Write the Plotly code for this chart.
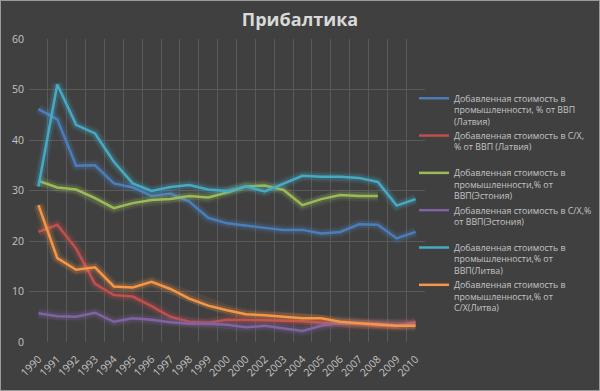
import plotly.graph_objects as go

tick_labels = ["1990", "1991", "1992", "1993", "1994", "1995", "1996", "1997", "1998", "1999",
               "2000", "2000", "2002", "2003", "2004", "2005", "2006", "2007", "2008", "2009", "2010"]

latvia_industry = [46.1, 44.1, 34.9, 35.0, 31.4, 30.6, 28.9, 29.4, 27.8, 24.6, 23.5,
                   23.0, 22.6, 22.2, 22.2, 21.5, 21.8, 23.3, 23.2, 20.5, 21.8]
latvia_agri = [21.8, 23.2, 18.5, 11.5, 9.3, 9.0, 7.1, 5.0, 4.0, 3.8, 4.4,
               4.4, 4.3, 4.2, 4.1, 3.8, 3.6, 3.6, 3.2, 3.1, 4.0]
estonia_industry = [31.9, 30.6, 30.2, 28.5, 26.5, 27.5, 28.1, 28.3, 28.9, 28.6, 29.6,
                    30.8, 31.0, 30.1, 27.1, 28.3, 29.1, 28.9, 28.9, None, None]
estonia_agri = [5.7, 5.1, 5.0, 5.8, 4.0, 4.7, 4.4, 3.9, 3.6, 3.6, 3.4,
                2.9, 3.2, 2.7, 2.2, 3.2, 3.8, 3.7, 3.6, 3.3, 3.5]
lithuania_industry = [30.8, 51.0, 43.0, 41.3, 35.7, 31.4, 29.9, 30.7, 31.1, 30.2, 29.9,
                      30.8, 29.8, 31.4, 32.9, 32.7, 32.7, 32.5, 31.7, 27.0, 28.3]
lithuania_agri = [27.1, 16.6, 14.3, 14.8, 11.0, 10.8, 11.9, 10.5, 8.6, 7.2, 6.3,
                  5.5, 5.3, 5.0, 4.7, 4.7, 4.0, 3.7, 3.4, 3.2, 3.2]

series_names = [
    "Добавленная стоимость в<br>промышленности, % от ВВП<br>(Латвия)",
    "Добавленная стоимость в С/Х,<br>% от ВВП (Латвия)<br> ",
    "Добавленная стоимость в<br>промышленности,% от<br>ВВП(Эстония)",
    "Добавленная стоимость в С/Х,%<br>от ВВП(Эстония)<br> ",
    "Добавленная стоимость в<br>промышленности,% от<br>ВВП(Литва)",
    "Добавленная стоимость в<br>промышленности,% от<br>С/Х(Литва)",
]
series_values = [latvia_industry, latvia_agri, estonia_industry,
                 estonia_agri, lithuania_industry, lithuania_agri]
series_colors = [(74, 126, 187), (192, 80, 77), (155, 187, 89),
                 (128, 100, 162), (70, 170, 197), (247, 150, 70)]

x_idx = list(range(len(tick_labels)))

fig = go.Figure()
for name, vals, (r, g, b) in zip(series_names, series_values, series_colors):
    for w, a in ((11, 0.10), (7, 0.20)):
        fig.add_trace(go.Scatter(
            x=x_idx, y=vals, mode="lines", showlegend=False, hoverinfo="skip",
            line=dict(color=f"rgba({r},{g},{b},{a})", width=w),
        ))
    fig.add_trace(go.Scatter(
        x=x_idx, y=vals, mode="lines", name=name,
        line=dict(color=f"rgb({r},{g},{b})", width=2.5),
    ))

W, H = 600, 391
L, R, T, B = 29, 175, 39, 49
pw, ph = W - L - R, H - T - B

grid_col = "#5a5a5a"
text_col = "#c4c4c4"
font_fam = "Open Sans"

fig.update_layout(
    width=W, height=H,
    margin=dict(l=L, r=R, t=T, b=B, autoexpand=False),
    paper_bgcolor="#404040",
    plot_bgcolor="#404040",
    font=dict(family=font_fam, color=text_col, size=10),
    title=dict(text="<b>Прибалтика</b>", x=0.5, xref="container", xanchor="center",
               y=1 - 20 / H, yref="container", yanchor="middle",
               font=dict(size=18, color="#d9d9d9", family=font_fam)),
    showlegend=True,
    legend=dict(x=(414 - L) / pw, xanchor="left", y=(342 - 86) / ph, yanchor="top",
                bgcolor="rgba(0,0,0,0)", font=dict(size=8.8, color=text_col, family=font_fam),
                valign="top", tracegroupgap=0, itemwidth=30),
    xaxis=dict(range=[-0.5, len(tick_labels) - 0.5], tickmode="array",
               tickvals=x_idx, ticktext=tick_labels, tickangle=-45,
               showgrid=False, zeroline=False, showline=False, ticks="",
               ticklabelstandoff=8,
               tickfont=dict(size=10.5, color=text_col, family=font_fam),
               minor=dict(tickmode="array",
                          tickvals=[i - 0.5 for i in range(len(tick_labels) + 1)],
                          showgrid=True, gridcolor=grid_col, gridwidth=1, ticks="")),
    yaxis=dict(range=[0, 60], dtick=10, tick0=0, showgrid=True, gridcolor=grid_col,
               zeroline=False, showline=False, ticks="", ticklabelstandoff=4,
               tickfont=dict(size=10.5, color=text_col, family=font_fam)),
    shapes=[dict(type="rect", xref="paper", yref="paper",
                 x0=-L / pw, x1=(W - L) / pw, y0=-B / ph, y1=(H - B) / ph,
                 line=dict(color="#9a9a9a", width=2), fillcolor="rgba(0,0,0,0)", layer="above")],
)

fig.write_html("out.html", config={"displayModeBar": False},
               post_script="document.body.style.margin='0px';")
